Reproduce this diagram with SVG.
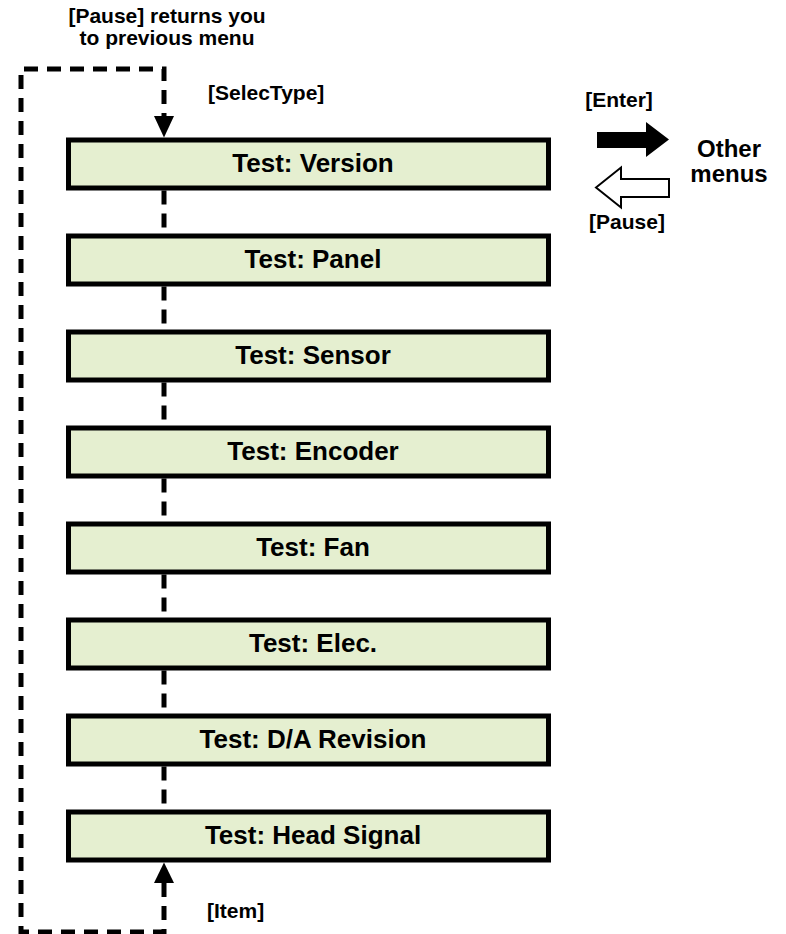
<svg xmlns="http://www.w3.org/2000/svg" width="786" height="934" viewBox="0 0 786 934">
<style>
.box{fill:#e5efd0;stroke:#000;stroke-width:5}
.nt{font-family:"Liberation Sans",Arial,sans-serif;font-weight:bold;font-size:26px;text-anchor:middle;fill:#000}
.lb{font-family:"Liberation Sans",Arial,sans-serif;font-weight:bold;font-size:21px;fill:#000}
.big{font-family:"Liberation Sans",Arial,sans-serif;font-weight:bold;font-size:24px;text-anchor:middle;fill:#000}
.dash{fill:none;stroke:#000;stroke-width:5;stroke-dasharray:14 9}
</style>
<rect width="786" height="934" fill="#fff"/>
<g id="connectors">
<path class="dash" d="M164,883 V932 H21 V69 H164 V116"/>
<polygon points="154,116 174,116 164,137.5" fill="#000"/>
<polygon points="154,883 174,883 164,862.5" fill="#000"/>
<line class="dash" x1="164" y1="190.5" x2="164" y2="233.5"/>
<line class="dash" x1="164" y1="286.5" x2="164" y2="329.5"/>
<line class="dash" x1="164" y1="382.5" x2="164" y2="425.5"/>
<line class="dash" x1="164" y1="478.5" x2="164" y2="521.5"/>
<line class="dash" x1="164" y1="574.5" x2="164" y2="617.5"/>
<line class="dash" x1="164" y1="670.5" x2="164" y2="713.5"/>
<line class="dash" x1="164" y1="766.5" x2="164" y2="809.5"/>
<polygon points="597,132 646,132 646,122 669,139.5 646,157 646,148 597,148" fill="#000"/>
<polygon points="596,187.5 621,167.5 621,179 669,179 669,197 621,197 621,207.5" fill="#fff" stroke="#000" stroke-width="2"/>
</g>
<g id="labels">
<text class="lb" x="167" y="23" text-anchor="middle" font-size="19.5">[Pause] returns you</text>
<text class="lb" x="167" y="45" text-anchor="middle" font-size="19.5">to previous menu</text>
<text class="lb" x="208" y="100">[SelecType]</text>
<text class="lb" x="207" y="918">[Item]</text>
<text class="lb" x="619" y="107" text-anchor="middle">[Enter]</text>
<text class="lb" x="627" y="229" text-anchor="middle">[Pause]</text>
</g>
<g id="other-menus">
<text class="big" x="729" y="157">Other</text>
<text class="big" x="729" y="182">menus</text>
</g>
<g id="n1"><rect class="box" x="68.5" y="140" width="480" height="48"/><text class="nt" x="313" y="171.5">Test: Version</text></g>
<g id="n2"><rect class="box" x="68.5" y="236" width="480" height="48"/><text class="nt" x="313" y="267.5">Test: Panel</text></g>
<g id="n3"><rect class="box" x="68.5" y="332" width="480" height="48"/><text class="nt" x="313" y="363.5">Test: Sensor</text></g>
<g id="n4"><rect class="box" x="68.5" y="428" width="480" height="48"/><text class="nt" x="313" y="459.5">Test: Encoder</text></g>
<g id="n5"><rect class="box" x="68.5" y="524" width="480" height="48"/><text class="nt" x="313" y="555.5">Test: Fan</text></g>
<g id="n6"><rect class="box" x="68.5" y="620" width="480" height="48"/><text class="nt" x="313" y="651.5">Test: Elec.</text></g>
<g id="n7"><rect class="box" x="68.5" y="716" width="480" height="48"/><text class="nt" x="313" y="747.5">Test: D/A Revision</text></g>
<g id="n8"><rect class="box" x="68.5" y="812" width="480" height="48"/><text class="nt" x="313" y="843.5">Test: Head Signal</text></g>
</svg>
